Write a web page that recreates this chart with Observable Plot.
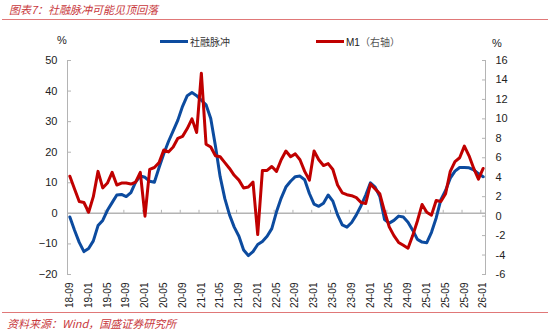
<!DOCTYPE html>
<html>
<head>
<meta charset="utf-8">
<script src="https://cdn.jsdelivr.net/npm/d3@7"></script>
<script src="https://cdn.jsdelivr.net/npm/@observablehq/plot@0.6"></script>
<style>
  html, body { margin: 0; padding: 0; background: #fff; }
  #wrap { position: relative; width: 550px; height: 333px; overflow: hidden; background: #fff; font-family: "Liberation Sans", Arial, sans-serif; }
  .abs { position: absolute; white-space: nowrap; }
  .cjk { font-family: "Noto Sans CJK SC", sans-serif; }
  .red-title { color: #c8383c; font-style: italic; font-size: 11px; }
  .hr { position: absolute; left: 2px; width: 546px; height: 0; border-top: 1px solid #e07878; }
  .legline { position: absolute; height: 3px; }
  .leg { font-size: 10px; color: #333; }
  #chart { position: absolute; left: 0; top: 20px; }
</style>
</head>
<body>
<div id="wrap">
  <div class="abs cjk red-title" style="left:9px; top:1px;">图表7：社融脉冲可能见顶回落</div>
  <div class="hr" style="top:19px;"></div>
  <div id="chart"></div>
  <div class="abs" style="left:57px; top:34px; font-size:11px; color:#222;">%</div>
  <div class="abs" style="left:492px; top:37px; font-size:11px; color:#222;">%</div>
  <div class="legline" style="left:160px; top:40px; width:28px; background:#0c4b9f;"></div>
  <div class="abs cjk leg" style="left:190px; top:34px;">社融脉冲</div>
  <div class="legline" style="left:316px; top:40px; width:28px; background:#c00000;"></div>
  <div class="abs leg" style="left:346px; top:34px; color:#222;">M1<span class="cjk" style="color:#555;">（右轴）</span></div>
  <div class="hr" style="top:312px;"></div>
  <div class="abs cjk red-title" style="left:7px; top:315px;">资料来源：Wind，国盛证券研究所</div>
</div>
<script>
// x-axis tick labels (every 4 months, first month = 18-09)
const tickLabels = ["18-09","19-01","19-05","19-09","20-01","20-05","20-09","21-01","21-05","21-09",
  "22-01","22-05","22-09","23-01","23-05","23-09","24-01","24-05","24-09","25-01","25-05","25-09","26-01"];

// 社融脉冲 (left axis, %), monthly from 2018-09 to 2026-01
const tsfImpulse = [-1.2,-5.5,-9.5,-12.5,-11.5,-9.0,-4.0,-2.3,1.0,3.5,
  6.0,6.2,5.5,6.8,10.2,12.2,11.8,10.5,10.2,15.0,
  19.5,23.5,27.0,30.5,35.0,38.5,39.5,38.5,37.0,35.5,
  31.0,22.0,12.0,4.8,-0.5,-4.5,-7.5,-12.0,-13.8,-12.5,
  -10.2,-9.2,-7.5,-5.0,0.5,5.0,8.6,10.5,12.0,12.2,
  11.0,6.5,3.0,2.3,3.3,6.0,4.0,-0.5,-3.8,-4.5,
  -3.0,-0.5,2.5,6.0,10.0,8.6,5.5,-2.0,-3.2,-2.3,
  -0.9,-1.2,-2.9,-5.5,-8.5,-9.4,-9.6,-6.2,-1.5,4.5,
  7.5,11.5,13.8,15.0,15.0,14.9,14.2,13.0,12.0];

// M1 同比 (right axis, %), monthly from 2018-09 to 2026-01
const m1 = [4.1,2.8,1.5,1.4,0.4,2.0,4.6,2.9,3.4,4.5,
  3.2,3.4,3.4,3.3,3.5,4.5,0.0,4.8,5.0,5.5,
  6.8,6.6,7.1,8.0,8.2,9.0,10.0,8.6,14.7,7.4,
  7.1,6.2,6.1,5.5,4.9,4.2,3.7,2.9,3.0,3.5,
  -1.9,4.7,4.7,5.1,4.6,5.8,6.7,6.1,6.4,5.8,
  4.6,3.7,6.7,5.8,5.2,5.4,4.8,3.2,2.4,2.2,
  2.1,1.9,1.4,1.3,3.3,2.8,2.3,0.5,-1.1,-2.0,
  -2.7,-3.0,-3.3,-2.0,-0.5,1.2,0.4,0.1,1.6,1.5,
  2.3,4.6,5.6,6.0,7.2,6.2,4.9,3.8,4.9];

const leftTicks = [-20,-10,0,10,20,30,40,50];
const rightTicks = [-6,-4,-2,0,2,4,6,8,10,12,14,16];

const leftDomain = [-20, 50];
const rightDomain = [-6, 16];
const toLeft = (m) => leftDomain[0] + (m - rightDomain[0]) * (leftDomain[1] - leftDomain[0]) / (rightDomain[1] - rightDomain[0]);
const fromLeft = (v) => rightDomain[0] + (v - leftDomain[0]) * (rightDomain[1] - rightDomain[0]) / (leftDomain[1] - leftDomain[0]);

const n = tsfImpulse.length;
const blueData = tsfImpulse.map((v, i) => ({i, v}));
const redData = m1.map((v, i) => ({i, v: toLeft(v)}));
const labelPos = tickLabels.map((_, k) => k * 4);
const zeroTicks = d3.range(-0.5, n, 4);

const axisGray = "#b4b4b4";

const chart = Plot.plot({
  width: 550,
  height: 290,
  marginTop: 40,
  marginBottom: 36,
  marginLeft: 67,
  marginRight: 65,
  style: {fontFamily: "Liberation Sans, Arial, sans-serif", fontSize: "11px", color: "#222", background: "transparent", overflow: "visible"},
  x: {domain: [-0.5, n - 0.5]},
  y: {domain: leftDomain},
  marks: [
    Plot.ruleY([0], {stroke: axisGray, strokeWidth: 1.5}),
    Plot.ruleX(zeroTicks, {x: d => d, y1: 0, y2: 1, stroke: axisGray}),
    Plot.frame({anchor: "left", stroke: axisGray}),
    Plot.frame({anchor: "right", stroke: axisGray}),
    Plot.axisY(leftTicks, {anchor: "left", tickSize: 4, insetLeft: 4, tickPadding: 10, stroke: axisGray, label: null}),
    Plot.axisY(rightTicks.map(toLeft), {anchor: "right", tickSize: 4, insetRight: 4, tickPadding: 10, stroke: axisGray, label: null,
      tickFormat: d => String(Math.round(fromLeft(d)))}),
    Plot.axisX(labelPos, {anchor: "bottom", tickSize: 0, tickRotate: -90, tickPadding: 8, label: null,
      fontSize: 10, tickFormat: d => tickLabels[Math.round(d / 4)]}),
    Plot.line(blueData, {x: "i", y: "v", stroke: "#0c4b9f", strokeWidth: 3, strokeLinejoin: "round"}),
    Plot.line(redData, {x: "i", y: "v", stroke: "#c00000", strokeWidth: 3, strokeLinejoin: "round"})
  ]
});
document.getElementById("chart").appendChild(chart);
</script>
</body>
</html>
